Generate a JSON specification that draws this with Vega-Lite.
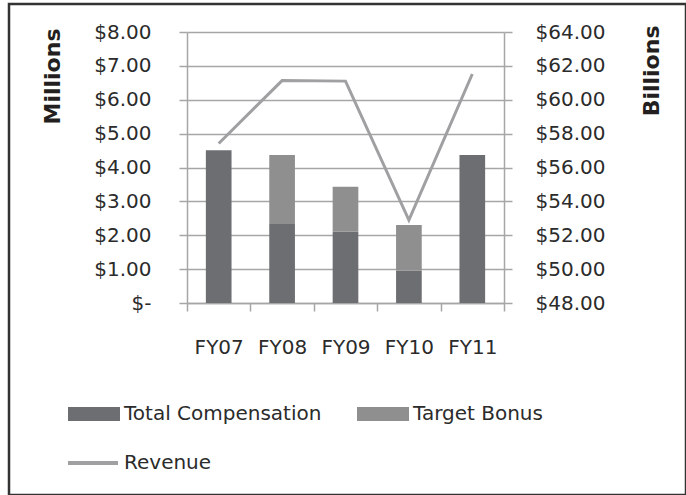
{
  "$schema": "https://vega.github.io/schema/vega-lite/v6.json",
  "width": 677,
  "height": 491,
  "autosize": {"type": "none"},
  "padding": {"left": 9, "top": 4, "right": 0, "bottom": 0},
  "background": "white",
  "config": {
    "view": {"stroke": "#333333", "strokeWidth": 2.5},
    "font": "DejaVu Sans",
    "axis": {
      "labelFont": "DejaVu Sans", "labelFontSize": 20, "labelColor": "#2b2b2b",
      "domainColor": "#a6a6a6", "domainWidth": 1.5,
      "tickColor": "#a6a6a6", "tickWidth": 1.5, "tickSize": 8,
      "gridColor": "#a6a6a6", "gridWidth": 1.5,
      "titleFont": "DejaVu Sans", "titleFontWeight": "bold", "titleFontSize": 22, "titleColor": "#231f20"
    },
    "legend": {"labelFont": "DejaVu Sans", "labelFontSize": 20, "labelColor": "#2b2b2b", "labelLimit": 400}
  },
  "datasets": {
    "comp": [
      {"fy": "FY07", "series": "Total Compensation", "amount": 4.51},
      {"fy": "FY08", "series": "Total Compensation", "amount": 2.33},
      {"fy": "FY08", "series": "Target Bonus", "amount": 2.04},
      {"fy": "FY09", "series": "Total Compensation", "amount": 2.10},
      {"fy": "FY09", "series": "Target Bonus", "amount": 1.33},
      {"fy": "FY10", "series": "Total Compensation", "amount": 0.95},
      {"fy": "FY10", "series": "Target Bonus", "amount": 1.35},
      {"fy": "FY11", "series": "Total Compensation", "amount": 4.37}
    ],
    "rev": [
      {"fy": "FY07", "series": "Revenue", "revenue": 57.42},
      {"fy": "FY08", "series": "Revenue", "revenue": 61.13},
      {"fy": "FY09", "series": "Revenue", "revenue": 61.1},
      {"fy": "FY10", "series": "Revenue", "revenue": 52.9},
      {"fy": "FY11", "series": "Revenue", "revenue": 61.52}
    ]
  },
  "layer": [
    {
      "data": {"name": "comp"},
      "mark": {"type": "bar", "width": {"band": 0.405}},
      "encoding": {
        "x": {
          "field": "fy", "type": "nominal",
          "scale": {"range": [178, 495], "paddingInner": 0, "paddingOuter": 0},
          "axis": {"title": null, "labelAngle": 0, "tickBand": "extent", "offset": -192, "labelPadding": 26, "grid": false}
        },
        "y": {
          "field": "amount", "type": "quantitative", "stack": "zero",
          "scale": {"domain": [0, 8], "range": [299, 28], "nice": false, "zero": true},
          "axis": {
            "title": "Millions", "values": [0, 1, 2, 3, 4, 5, 6, 7, 8],
            "labelExpr": "datum.value == 0 ? '$-' : '$' + format(datum.value, '.2f')",
            "grid": true, "offset": -178, "labelPadding": 28,
            "titleAngle": -90, "titleX": -135, "titleY": 24, "titleAlign": "right", "titleBaseline": "middle"
          }
        },
        "fill": {
          "field": "series", "type": "nominal",
          "scale": {"domain": ["Total Compensation", "Target Bonus"], "range": ["#6d6e71", "#8f8f8f"]},
          "legend": {
            "title": null, "orient": "none", "legendX": 59, "legendY": 384,
            "direction": "horizontal", "columns": 2, "columnPadding": 35,
            "symbolType": "M-1,-0.27H1V0.27H-1Z", "symbolSize": 2704, "symbolStrokeWidth": 0,
            "labelOffset": 4
          }
        },
        "order": {"field": "series", "sort": "descending"}
      }
    },
    {
      "data": {"name": "rev"},
      "mark": {"type": "line", "strokeWidth": 3},
      "encoding": {
        "x": {"field": "fy", "type": "nominal"},
        "y": {
          "field": "revenue", "type": "quantitative",
          "scale": {"domain": [48, 64], "range": [299, 28], "nice": false, "zero": false},
          "axis": {
            "title": "Billions", "orient": "right", "values": [48, 50, 52, 54, 56, 58, 60, 62, 64],
            "labelExpr": "'$' + format(datum.value, '.2f')",
            "grid": false, "offset": -182, "labelPadding": 23,
            "titleAngle": -90, "titleX": 147, "titleY": 21, "titleAlign": "right", "titleBaseline": "middle"
          }
        },
        "stroke": {
          "field": "series", "type": "nominal",
          "scale": {"domain": ["Revenue"], "range": ["#a0a0a2"]},
          "legend": {
            "title": null, "orient": "none", "legendX": 57, "legendY": 432,
            "symbolType": "stroke", "symbolSize": 2500, "symbolStrokeWidth": 4,
            "labelOffset": 4
          }
        }
      }
    }
  ],
  "resolve": {"scale": {"y": "independent"}}
}
